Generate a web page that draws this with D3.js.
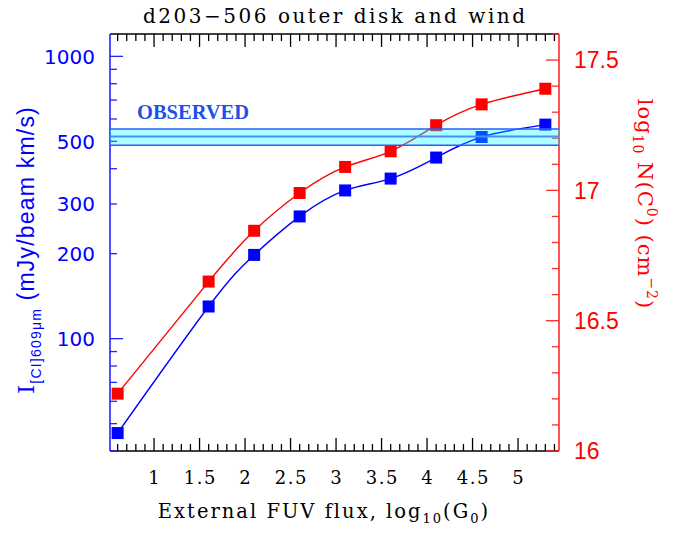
<!DOCTYPE html>
<html><head><meta charset="utf-8">
<script src="https://cdn.jsdelivr.net/npm/d3@7"></script>
<style>
html,body{margin:0;padding:0;background:#fff;}
svg{display:block;}
</style>
</head><body>
<svg id="chart" width="686" height="534"></svg>
<script>
// ---- data ----
const titleText = "d203\u2212506 outer disk and wind";
const logG0 = [0.6, 1.6, 2.1, 2.6, 3.1, 3.6, 4.1, 4.6, 5.3];
const intensityCI = [46.3, 130, 198, 271, 335, 369, 438, 518, 573];   // mJy/beam km/s (left, log)
const logNC0 = [16.22, 16.65, 16.845, 16.99, 17.09, 17.15, 17.25, 17.33, 17.39]; // right axis
const xTickLabels = [1, 1.5, 2, 2.5, 3, 3.5, 4, 4.5, 5];
const leftTickLabels = [100, 200, 300, 500, 1000];
const rightTickLabels = [16, 16.5, 17, 17.5];
const observedBand = [484, 520, 553]; // low, value, high
const observedLabel = "OBSERVED";

// ---- layout ----
const L = 110, R = 559, T = 34, B = 451;
const svg = d3.select("#chart");
const x = d3.scaleLinear().domain([0.516, 5.45]).range([L, R]);
const yL = d3.scaleLog().domain([40, 1200]).range([B, T]);
const yR = d3.scaleLinear().domain([16, 17.6]).range([B, T]);

const BLUE = "#0000ff", RED = "#ff0000";
const AXB = "#2323ff", AXR = "#ff2a2a";
const MAJ = 13, MIN = 7;

// x ticks (top and bottom)
const xMinor = d3.range(6, 55).map(d => d / 10);
const isMajorX = v => Math.abs(v * 2 - Math.round(v * 2)) < 1e-6;
const gx = svg.append("g");
xMinor.forEach(v => {
  const len = isMajorX(v) ? MAJ : MIN;
  gx.append("line").attr("x1", x(v)).attr("x2", x(v)).attr("y1", B).attr("y2", B - len)
    .attr("stroke", "#000").attr("stroke-width", 1.3);
  gx.append("line").attr("x1", x(v)).attr("x2", x(v)).attr("y1", T).attr("y2", T + len)
    .attr("stroke", "#000").attr("stroke-width", 1.3);
});
gx.append("line").attr("x1", L).attr("x2", R).attr("y1", B).attr("y2", B).attr("stroke", "#000").attr("stroke-width", 1.5);
gx.append("line").attr("x1", L).attr("x2", R).attr("y1", T).attr("y2", T).attr("stroke", "#000").attr("stroke-width", 1.5);
gx.selectAll("text.xt").data(xTickLabels).enter().append("text")
  .attr("x", d => x(d) + 0.8).attr("y", 484).attr("text-anchor", "middle")
  .attr("font-family", "DejaVu Serif").attr("font-size", 18).attr("letter-spacing", 1.5)
  .attr("fill", "#000").text(d => d);

// left axis (log)
const gl = svg.append("g");
const leftMinor = [];
[10, 100, 1000].forEach(dec => { for (let k = 1; k <= 9; k++) { const v = k * dec; if (v >= 40 && v <= 1200) leftMinor.push(v); } });
leftMinor.forEach(v => {
  const major = (v === 100 || v === 1000);
  gl.append("line").attr("x1", L).attr("x2", L + (major ? MAJ : MIN))
    .attr("y1", yL(v)).attr("y2", yL(v)).attr("stroke", AXB).attr("stroke-width", 1.3);
});
gl.append("line").attr("x1", L).attr("x2", L).attr("y1", T).attr("y2", B).attr("stroke", AXB).attr("stroke-width", 1.6);
gl.selectAll("text").data(leftTickLabels).enter().append("text")
  .attr("x", 95).attr("y", d => yL(d) + 7.3).attr("text-anchor", "end")
  .attr("font-family", "DejaVu Sans").attr("font-size", 20).attr("fill", BLUE).text(d => d);

// right axis
const gr = svg.append("g");
d3.range(160, 177).map(d => d / 10).forEach(v => {
  const major = Math.abs(v * 2 - Math.round(v * 2)) < 1e-6;
  gr.append("line").attr("x1", R).attr("x2", R - (major ? MAJ : MIN))
    .attr("y1", yR(v)).attr("y2", yR(v)).attr("stroke", AXR).attr("stroke-width", 1.3);
});
gr.append("line").attr("x1", R).attr("x2", R).attr("y1", T).attr("y2", B).attr("stroke", AXR).attr("stroke-width", 1.6);
gr.selectAll("text").data(rightTickLabels).enter().append("text")
  .attr("x", 574).attr("y", d => yR(d) + 8.3).attr("text-anchor", "start")
  .attr("font-family", "Liberation Sans").attr("font-size", 23).attr("fill", RED).text(d => d);

// curves
const pts = logG0.map((g, i) => ({ g, I: intensityCI[i], N: logNC0[i] }));
const curve = d3.curveNatural;
svg.append("path").datum(pts).attr("fill", "none").attr("stroke", RED).attr("stroke-width", 1.4)
  .attr("d", d3.line().x(d => x(d.g)).y(d => yR(d.N)).curve(curve));
svg.append("path").datum(pts).attr("fill", "none").attr("stroke", BLUE).attr("stroke-width", 1.4)
  .attr("d", d3.line().x(d => x(d.g)).y(d => yL(d.I)).curve(curve));
const S = 12;
svg.selectAll("rect.r").data(pts).enter().append("rect").attr("class", "r")
  .attr("x", d => x(d.g) - S / 2).attr("y", d => yR(d.N) - S / 2).attr("width", S).attr("height", S).attr("fill", RED);
svg.selectAll("rect.b").data(pts).enter().append("rect").attr("class", "b")
  .attr("x", d => x(d.g) - S / 2).attr("y", d => yL(d.I) - S / 2).attr("width", S).attr("height", S).attr("fill", BLUE);

// observed band (translucent, above the data)
svg.append("rect").attr("x", L).attr("width", R - L)
  .attr("y", yL(observedBand[2])).attr("height", yL(observedBand[0]) - yL(observedBand[2]))
  .attr("fill", "#00ffff").attr("fill-opacity", 0.33);
[observedBand[0], observedBand[2]].forEach(v => {
  svg.append("line").attr("x1", L).attr("x2", R).attr("y1", yL(v)).attr("y2", yL(v))
    .attr("stroke", "#2a5cff").attr("stroke-width", 1.4);
});
svg.append("line").attr("x1", L).attr("x2", R).attr("y1", yL(observedBand[1])).attr("y2", yL(observedBand[1]))
  .attr("stroke", "#4a8cf8").attr("stroke-width", 2);
svg.append("text").attr("x", 137).attr("y", 118.5)
  .attr("font-family", "Liberation Serif").attr("font-weight", "bold").attr("font-size", 20.5)
  .attr("fill", "#2050e8").text(observedLabel);

// title
svg.append("text").attr("x", 143).attr("y", 23).attr("textLength", 382).attr("lengthAdjust", "spacing")
  .attr("font-family", "DejaVu Serif").attr("font-size", 20).attr("fill", "#000").text(titleText);

// x label
const xl = svg.append("text").attr("x", 324).attr("y", 518).attr("text-anchor", "middle")
  .attr("font-family", "DejaVu Serif").attr("font-size", 19.5).attr("letter-spacing", 2).attr("fill", "#000");
xl.append("tspan").text("External FUV flux, log");
xl.append("tspan").attr("font-size", 13).attr("dy", 5).text("10");
xl.append("tspan").attr("dy", -5).text("(G");
xl.append("tspan").attr("font-size", 13).attr("dy", 5).text("0");
xl.append("tspan").attr("dy", -5).text(")");

// left y label
const yl = svg.append("text").attr("transform", "translate(34,250) rotate(-90)").attr("text-anchor", "middle")
  .attr("font-family", "Liberation Sans").attr("font-size", 23).attr("letter-spacing", 1.2).attr("fill", BLUE);
yl.append("tspan").attr("font-family", "DejaVu Serif").text("I");
yl.append("tspan").attr("font-size", 14).attr("dy", 7).text("[CI]609\u03bcm");
yl.append("tspan").attr("dy", -7).text(" (mJy/beam km/s)");

// right y label
const yr = svg.append("text").attr("transform", "translate(638,204) rotate(90)").attr("text-anchor", "middle")
  .attr("font-family", "DejaVu Serif").attr("font-size", 21).attr("letter-spacing", 1).attr("fill", RED);
yr.append("tspan").text("log");
yr.append("tspan").attr("font-size", 14).attr("dy", 5).text("10");
yr.append("tspan").attr("dy", -5).text(" N(C");
yr.append("tspan").attr("font-size", 14).attr("dy", -9).text("0");
yr.append("tspan").attr("dy", 9).text(") (cm");
yr.append("tspan").attr("font-size", 14).attr("dy", -9).text("\u22122");
yr.append("tspan").attr("dy", 9).text(")");
</script>
</body></html>
